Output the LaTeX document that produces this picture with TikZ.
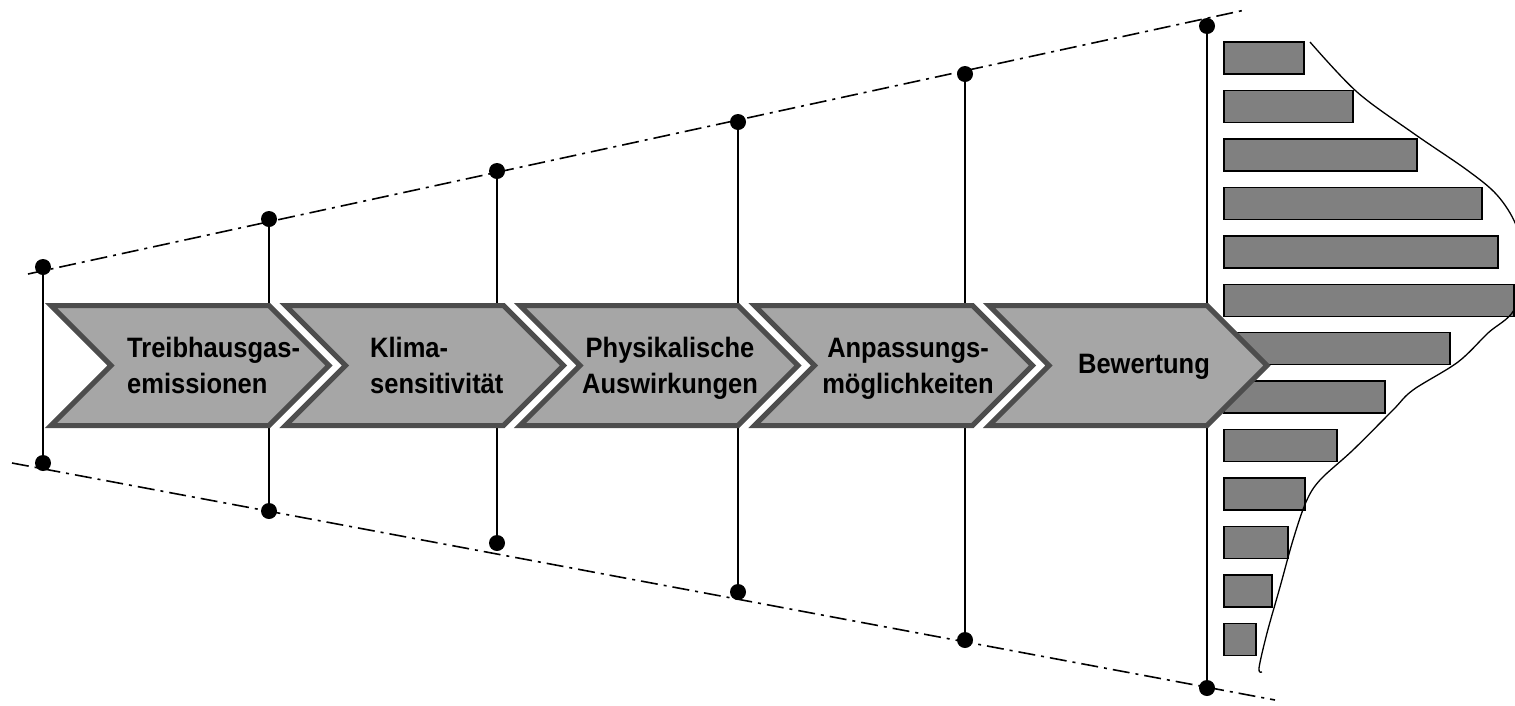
\documentclass[tikz,border=0pt]{standalone}
\usepackage{fontspec}
\usepackage{graphicx}
\setmainfont{Liberation Sans}
\definecolor{chevfill}{HTML}{A6A6A6}
\definecolor{chevline}{HTML}{4D4D4D}
\definecolor{barfill}{HTML}{808080}
\newcommand\lblfont{\fontsize{25.5}{33}\selectfont\bfseries}
\newcommand\twolines[3]{\scalebox{1}[1.1]{\begin{tabular}[t]{@{}#1@{}}#2\\#3\end{tabular}}}
\newcommand\onelinelbl[1]{\scalebox{1}[1.1]{#1}}
\begin{document}
\begin{tikzpicture}[x=1pt,y=-1pt,
  chev/.style={fill=chevfill, draw=chevline, line width=5pt, line join=miter},
  bar/.style={fill=barfill, draw=black, line width=1.5pt},
  guide/.style={line width=1.6pt, dash pattern=on 17pt off 6pt on 3pt off 6pt},
  stem/.style={line width=1.6pt},
  dot/.style={circle, fill=black, inner sep=0pt, minimum size=16pt},
  lbl/.style={inner sep=0pt, font=\lblfont, text=black}]
\useasboundingbox (0,0) rectangle (1515,705);
% guide lines
\coordinate (t0) at (28,274); \coordinate (t1) at (1245,10);
\coordinate (b0) at (12,463); \coordinate (b1) at (1275,700);
\draw[guide] (t0) -- (t1);
\draw[guide] (b0) -- (b1);
% stems and dots
\foreach \i/\x/\yt/\yb in {0/43/267/463, 1/269/219/511, 2/497/171/543, 3/738/122/592, 4/965/74/640, 5/1207/26/688} {
  \node[dot] (u\i) at (\x,\yt) {};
  \node[dot] (d\i) at (\x,\yb) {};
  \draw[stem] (u\i.center) -- (d\i.center);
}
% bars
\foreach \i/\r in {0/1304, 1/1353, 2/1417, 3/1482, 4/1498, 5/1514, 6/1450, 7/1385, 8/1337, 9/1305, 10/1288, 11/1272, 12/1256} {
  \draw[bar] (1224,{42+48.45*\i}) rectangle (\r,{74+48.45*\i});
}
% distribution curve
\begin{scope}
\clip (0,0) rectangle (1515,705);
\draw[line width=1.3pt] plot[smooth, tension=0.55] coordinates {
  (1310,42) (1357,92) (1413,133) (1467,170) (1497,195) (1516,225) (1526,266)
  (1514,310) (1488,333) (1458,362) (1413,390) (1393,410) (1353,450) (1320,480)
  (1306,502) (1293,540) (1280,587) (1267,633) (1259,668) (1262,672)};
\end{scope}
% chevrons
\foreach \k in {0,...,4} {
  \pgfmathsetmacro\L{51+234.5*\k}
  \pgfmathsetmacro\R{\L+218}
  \draw[chev] (\L,305.5) -- (\R,305.5) -- ({\R+60},365.5) -- (\R,425.5) -- (\L,425.5) -- ({\L+60},365.5) -- cycle;
}
% labels
\node[lbl, anchor=base west] (l1) at (127,357) {\twolines{l}{Treibhausgas-}{emissionen}};
\node[lbl, anchor=base west] (l2) at (370,357) {\twolines{l}{Klima-}{sensitivität}};
\node[lbl, anchor=base] (l3) at (670,357) {\twolines{c}{Physikalische}{Auswirkungen}};
\node[lbl, anchor=base] (l4) at (908,357) {\twolines{c}{Anpassungs-}{möglichkeiten}};
\node[lbl, anchor=base] (l5) at (1144,373) {\onelinelbl{Bewertung}};
\end{tikzpicture}
\end{document}
